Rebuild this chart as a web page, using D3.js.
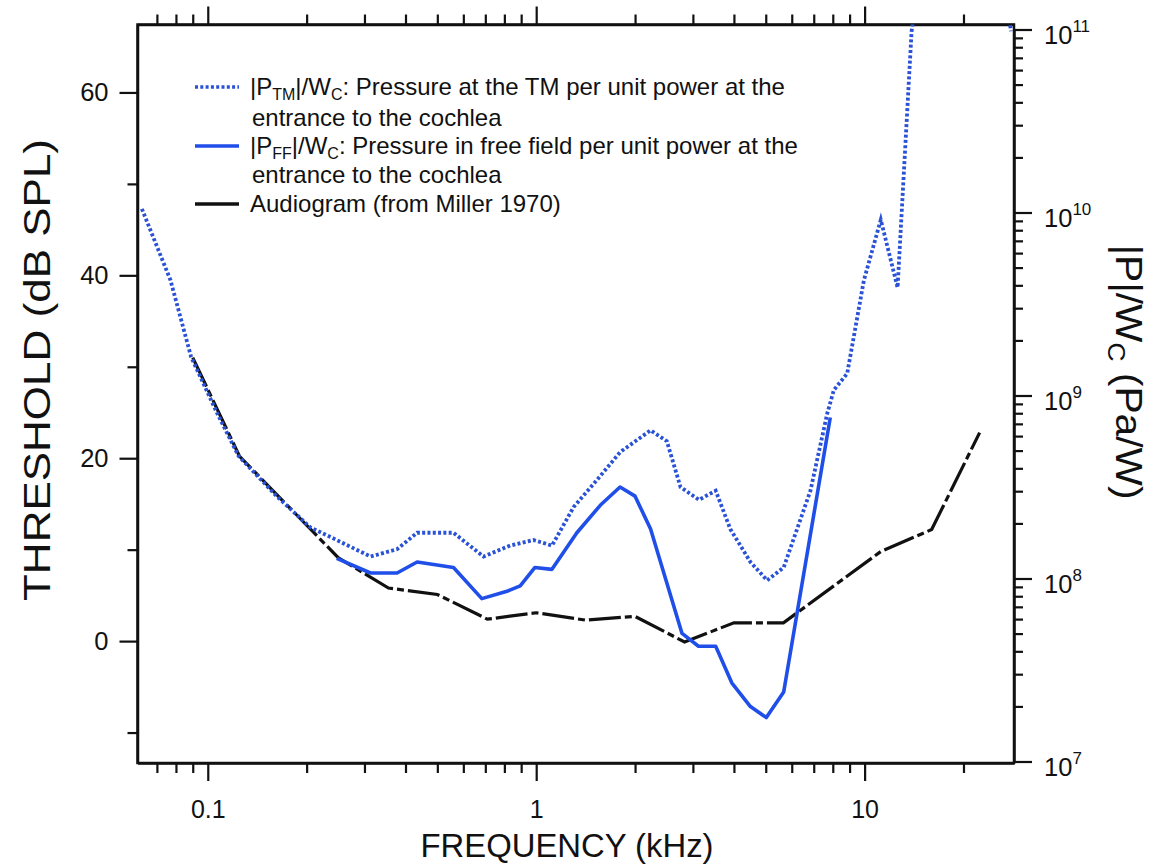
<!DOCTYPE html>
<html>
<head>
<meta charset="utf-8">
<script src="https://cdn.jsdelivr.net/npm/d3@7"></script>
<style>
  body { margin: 0; background: #fff; }
  svg text { font-family: "Liberation Sans", Arial, sans-serif; fill: #111; }
</style>
</head>
<body>
<script>
// audiogram, dB SPL (left axis)
var audFreq = [0.09, 0.125, 0.25, 0.355, 0.5, 0.71, 1.0, 1.41, 2.0, 2.83, 4.0, 5.66, 11.2, 16.0, 22.4];
var audDb   = [31.0, 20.2, 9.1, 5.8, 5.1, 2.4, 3.1, 2.3, 2.7, -0.1, 2.0, 2.0, 9.8, 12.2, 22.8];

// |P_TM|/W_C, log10 Pa/W (right axis)
var tmFreq = [0.063, 0.077, 0.089, 0.107, 0.124, 0.162, 0.205, 0.247, 0.313, 0.377, 0.434, 0.56, 0.691, 0.833,
              0.981, 1.117, 1.30, 1.567, 1.80, 2.23, 2.50, 2.75, 3.13, 3.52, 3.90, 4.49, 5.05, 5.67, 6.84,
              7.69, 8.06, 8.85, 9.95, 11.2, 12.6, 13.9, 20.0, 27.9];
var tmLog  = [10.02, 9.63, 9.21, 8.90, 8.67, 8.45, 8.28, 8.21, 8.12, 8.16, 8.25, 8.25, 8.12, 8.18,
              8.21, 8.18, 8.39, 8.56, 8.69, 8.81, 8.75, 8.50, 8.43, 8.48, 8.27, 8.09, 7.99, 8.06, 8.48,
              8.90, 9.03, 9.12, 9.63, 9.96, 9.59, 10.99, 13.0, 10.99];

// |P_FF|/W_C, log10 Pa/W (right axis)
var ffFreq = [0.247, 0.313, 0.377, 0.434, 0.56, 0.683, 0.815, 0.894, 0.99, 1.117, 1.33, 1.567, 1.80, 2.0,
              2.23, 2.78, 3.12, 3.52, 3.94, 4.49, 5.02, 5.67, 7.86];
var ffLog  = [8.11, 8.03, 8.03, 8.09, 8.06, 7.89, 7.93, 7.96, 8.06, 8.05, 8.25, 8.40, 8.50, 8.45,
              8.27, 7.70, 7.63, 7.63, 7.43, 7.30, 7.24, 7.38, 8.88];

var xMajor = [0.1, 1, 10];
var leftMajor = [0, 20, 40, 60];
var leftMinor = [-10, 10, 30, 50];
var rightExp = [7, 8, 9, 10, 11];

var L = 137.5, R = 1014, T = 24.5, B = 763;

var svg = d3.select("body").append("svg")
  .attr("width", 1167)
  .attr("height", 864);

var x = d3.scaleLog().domain([0.0611, 28.5]).range([L, R]);
var yL = d3.scaleLinear().domain([-13.33, 67.43]).range([B, T]);
var yR = d3.scaleLog().domain([1e7, 1e11]).range([761.5, 29.5]);

svg.append("clipPath").attr("id", "clip")
  .append("rect").attr("x", L).attr("y", T).attr("width", R - L).attr("height", B - T);

// log minor ticks for x
var xTicks = [];
[0.01, 0.1, 1, 10].forEach(function(dec) {
  for (var k = 1; k <= 9; k++) {
    var v = +(dec * k).toPrecision(3);
    if (v >= x.domain()[0] && v <= x.domain()[1]) xTicks.push(v);
  }
});
var isMajorX = function(v) { return xMajor.indexOf(v) >= 0; };

var axBottom = d3.axisBottom(x).tickValues(xTicks)
  .tickSizeInner(10).tickSizeOuter(0).tickFormat(function(d) { return isMajorX(d) ? String(d) : ""; });
var axTop = d3.axisTop(x).tickValues(xTicks).tickSizeInner(10).tickSizeOuter(0).tickFormat("");

var gB = svg.append("g").attr("transform", "translate(0," + B + ")").call(axBottom);
gB.selectAll(".tick line").filter(function(d) { return isMajorX(d); }).attr("y2", 18);
gB.selectAll(".tick text").attr("y", 37).style("font-size", "25px");

var gT = svg.append("g").attr("transform", "translate(0," + T + ")").call(axTop);
gT.selectAll(".tick line").filter(function(d) { return isMajorX(d); }).attr("y2", -18);

// left axis
var axLeft = d3.axisLeft(yL).tickValues(leftMajor.concat(leftMinor))
  .tickSizeInner(10).tickSizeOuter(0)
  .tickFormat(function(d) { return leftMajor.indexOf(d) >= 0 ? String(d) : ""; });
var gL = svg.append("g").attr("transform", "translate(" + L + ",0)").call(axLeft);
gL.selectAll(".tick line").filter(function(d) { return leftMajor.indexOf(d) >= 0; }).attr("x2", -18);
gL.selectAll(".tick text").attr("x", -29).style("font-size", "25.5px");

// right axis
var rTicks = [];
rightExp.forEach(function(e) {
  for (var k = 1; k <= 9; k++) {
    if (e === 11 && k > 1) break;
    rTicks.push(k * Math.pow(10, e));
  }
});
var isDecade = function(d) {
  var l = Math.log10(d);
  return Math.abs(l - Math.round(l)) < 1e-6;
};
var axRight = d3.axisRight(yR).tickValues(rTicks).tickSizeInner(9).tickSizeOuter(0).tickFormat("");
var gR = svg.append("g").attr("transform", "translate(" + R + ",0)").call(axRight);
gR.selectAll(".tick line").filter(isDecade).attr("x2", 18);

var rLab = svg.append("g");
rightExp.forEach(function(e) {
  var t = rLab.append("text")
    .attr("x", R + 30)
    .attr("y", yR(Math.pow(10, e)) + 14)
    .style("font-size", "25.5px");
  t.append("tspan").text("10");
  t.append("tspan").attr("dy", -12).style("font-size", "17px").text(String(e));
});

svg.selectAll(".domain").attr("stroke", "#111").attr("stroke-width", 2.5);
svg.selectAll(".tick line").attr("stroke", "#111").attr("stroke-width", 2.2);
svg.selectAll(".tick text").attr("fill", "#111").style("font-family", "Liberation Sans, Arial, sans-serif");

// frame
svg.append("rect").attr("x", L).attr("y", T).attr("width", R - L).attr("height", B - T)
  .attr("fill", "none").attr("stroke", "#111").attr("stroke-width", 2.5);

// curves
var plot = svg.append("g").attr("clip-path", "url(#clip)");

var lineAud = d3.line().x(function(d) { return x(d[0]); }).y(function(d) { return yL(d[1]); });
var lineR = d3.line().x(function(d) { return x(d[0]); }).y(function(d) { return yR(Math.pow(10, d[1])); });

plot.append("path")
  .datum(d3.zip(audFreq, audDb))
  .attr("d", lineAud)
  .attr("fill", "none").attr("stroke", "#111").attr("stroke-width", 3.2)
  .attr("stroke-dasharray", "32,4,7,4");

plot.append("path")
  .datum(d3.zip(tmFreq, tmLog))
  .attr("d", lineR)
  .attr("fill", "none").attr("stroke", "#2a52d6").attr("stroke-width", 3.8)
  .attr("stroke-dasharray", "3,2.3");

plot.append("path")
  .datum(d3.zip(ffFreq, ffLog))
  .attr("d", lineR)
  .attr("fill", "none").attr("stroke", "#1f4fe8").attr("stroke-width", 3.6)
  .attr("stroke-linejoin", "round");

// legend
var lg = svg.append("g").style("font-size", "24px");
var rows = [
  { y: 87, dash: "3,2.3", color: "#2a52d6", sub: "TM", text: ": Pressure at the TM per unit power at the" },
  { y: 118, text2: "entrance to the cochlea" },
  { y: 146, dash: null, color: "#1f4fe8", sub: "FF", text: ": Pressure in free field per unit power at the" },
  { y: 175, text2: "entrance to the cochlea" },
  { y: 204, dash: null, color: "#111", plain: "Audiogram (from Miller 1970)" }
];
rows.forEach(function(r) {
  if (r.color) {
    lg.append("line").attr("x1", 195).attr("x2", 239).attr("y1", r.y).attr("y2", r.y)
      .attr("stroke", r.color).attr("stroke-width", 3.6)
      .attr("stroke-dasharray", r.dash);
  }
  var t = lg.append("text").attr("x", 250).attr("y", r.y + 8);
  if (r.plain) { t.text(r.plain); return; }
  if (r.text2) { t.attr("x", 252).text(r.text2); return; }
  t.append("tspan").text("|P");
  t.append("tspan").attr("dy", 5).style("font-size", "16px").text(r.sub);
  t.append("tspan").attr("dy", -5).text("|/W");
  t.append("tspan").attr("dy", 5).style("font-size", "16px").text("C");
  t.append("tspan").attr("dy", -5).text(r.text);
});

// axis titles
svg.append("text")
  .attr("transform", "translate(50,370) rotate(-90)")
  .attr("text-anchor", "middle")
  .attr("textLength", 462).attr("lengthAdjust", "spacingAndGlyphs")
  .style("font-size", "37px")
  .text("THRESHOLD (dB SPL)");

svg.append("text")
  .attr("x", 567).attr("y", 857)
  .attr("text-anchor", "middle")
  .attr("textLength", 293).attr("lengthAdjust", "spacingAndGlyphs")
  .style("font-size", "33px")
  .text("FREQUENCY (kHz)");

var rt = svg.append("text")
  .attr("transform", "translate(1116,372) rotate(90)")
  .attr("text-anchor", "middle")
  .attr("textLength", 255).attr("lengthAdjust", "spacingAndGlyphs")
  .style("font-size", "37px");
rt.append("tspan").text("|P|/W");
rt.append("tspan").attr("dy", 8).style("font-size", "24px").text("C");
rt.append("tspan").attr("dy", -8).text(" (Pa/W)");
</script>
</body>
</html>
